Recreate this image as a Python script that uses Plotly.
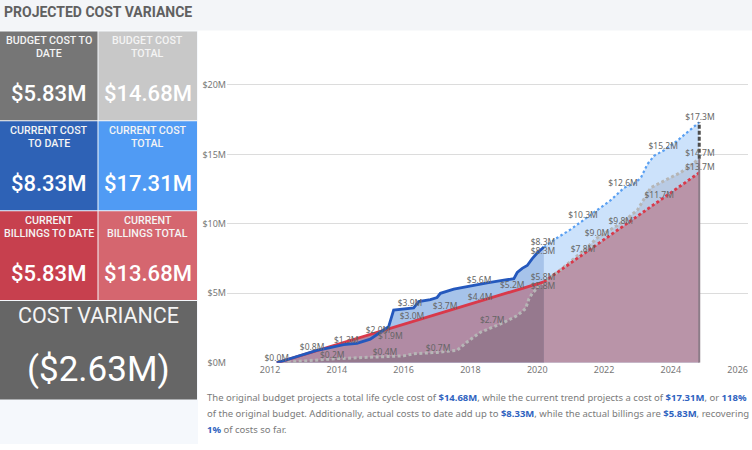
import plotly.graph_objects as go

# ---- data (values in $M, x in fractional years) ----
cur_act_x = [2012.2, 2012.6, 2013.0, 2013.4, 2013.8, 2014.2, 2014.6, 2015.0, 2015.3, 2015.55, 2015.7,
             2016.1, 2016.3, 2016.45, 2016.8, 2017.0, 2017.1, 2017.5, 2018.0, 2018.5, 2019.0, 2019.3,
             2019.4, 2019.55, 2019.7, 2019.85, 2020.0, 2020.2]
cur_act_y = [0.0, 0.3, 0.6, 0.9, 1.1, 1.3, 1.4, 1.7, 2.2, 2.6, 3.8,
             3.9, 3.95, 4.4, 4.55, 4.7, 5.0, 5.3, 5.55, 5.75, 5.95, 6.05,
             6.5, 6.8, 7.0, 7.5, 7.9, 8.33]
cur_proj_x = [2020.2, 2020.6, 2021.0, 2021.4, 2021.8, 2022.2, 2022.6, 2022.9, 2023.1, 2023.3, 2023.5,
              2023.8, 2024.2, 2024.85]
cur_proj_y = [8.33, 9.0, 9.6, 10.3, 11.0, 11.7, 12.6, 12.9, 13.3, 14.3, 14.9, 15.3, 16.0, 17.31]

bud_act_x = [2012.2, 2013.0, 2014.0, 2015.0, 2016.0, 2016.3, 2017.0, 2017.6, 2017.9, 2018.3, 2018.7,
             2019.0, 2019.4, 2019.65, 2019.75, 2019.85, 2020.2]
bud_act_y = [0.0, 0.15, 0.3, 0.4, 0.5, 0.65, 0.75, 0.9, 1.5, 2.2, 2.6, 2.9, 3.4, 3.9, 4.6, 5.0, 5.83]
bud_proj_x = [2020.2, 2020.6, 2021.0, 2021.4, 2021.8, 2022.2, 2022.6, 2023.0, 2023.2, 2023.4, 2023.8,
              2024.3, 2024.85]
bud_proj_y = [5.83, 6.5, 7.3, 8.1, 9.0, 9.6, 10.2, 11.0, 11.8, 12.6, 13.1, 13.7, 14.68]

bill_act_x = [2012.2, 2020.2]
bill_act_y = [0.0, 5.83]
bill_proj_x = [2020.2, 2024.85]
bill_proj_y = [5.83, 13.68]

lbl_x = [2012.2, 2013.26, 2014.28, 2015.23, 2015.6, 2013.86, 2015.44, 2017.03, 2018.65, 2016.19,
         2016.25, 2017.24, 2018.29, 2018.26, 2019.25, 2020.17, 2020.17, 2020.17, 2020.17,
         2021.37, 2021.79, 2022.5, 2021.37, 2023.65, 2022.57, 2023.77, 2024.87, 2024.87, 2024.87]
lbl_y = [0.0, 0.8, 1.3, 2.0, 1.9, 0.2, 0.4, 0.7, 2.7, 3.9,
         3.0, 3.7, 4.4, 5.6, 5.2, 8.3, 8.3, 5.8, 5.8,
         7.8, 9.0, 9.8, 10.3, 11.7, 12.6, 15.2, 14.7, 13.7, 17.3]
lbl_pos = ["top center"] * 4 + ["middle center"] + ["top center"] * 11 + ["bottom center", "top center", "bottom center"] + ["top center"] * 10

y_ticks = [0, 5, 10, 15, 20]
x_ticks = list(range(2012, 2027, 2))

tiles = [
    # label lines, value, colour, (x0, y0, x1, y1) in px
    (["BUDGET COST TO", "DATE"], "$5.83M", "#767676", (0, 32, 97.5, 122)),
    (["BUDGET COST", "TOTAL"], "$14.68M", "#c8c8c8", (98.5, 32, 197, 122)),
    (["CURRENT COST", "TO DATE"], "$8.33M", "#2e62b6", (0, 123, 97.5, 213)),
    (["CURRENT COST", "TOTAL"], "$17.31M", "#509bf4", (98.5, 123, 197, 213)),
    (["CURRENT", "BILLINGS TO DATE"], "$5.83M", "#c7404e", (0, 214, 97.5, 304)),
    (["CURRENT", "BILLINGS TOTAL"], "$13.68M", "#d5666f", (98.5, 214, 197, 304)),
]
variance_value = "($2.63M)"

W, H = 752, 450
def px(x): return x / W
def py(y): return 1 - y / H

TILE_FONT = "Roboto, sans-serif"
TXT_FONT = "Noto Sans, Open Sans, sans-serif"

fig = go.Figure()

def area(x, y, color):
    fig.add_trace(go.Scatter(x=x, y=y, mode="lines", fill="tozeroy", fillcolor=color,
                             line=dict(width=0), hoverinfo="skip", showlegend=False))

area(cur_act_x, cur_act_y, "rgb(166,195,234)")
area(cur_proj_x, cur_proj_y, "rgb(204,226,251)")
area(bud_proj_x, bud_proj_y, "rgba(110,115,140,0.2)")
area(bill_act_x, bill_act_y, "rgb(177,139,164)")
area(bill_proj_x, bill_proj_y, "rgb(185,148,168)")
area(bud_act_x, bud_act_y, "rgba(46,48,53,0.2)")

def line(x, y, color, width, dash="solid"):
    fig.add_trace(go.Scatter(x=x, y=y, mode="lines", line=dict(color=color, width=width, dash=dash),
                             hoverinfo="skip", showlegend=False))

line(bud_act_x + bud_proj_x[1:], bud_act_y + bud_proj_y[1:], "#b6b6b6", 3, "3px,2.5px")
line(bill_act_x, bill_act_y, "#d9394a", 2.8)
line(bill_proj_x, bill_proj_y, "#d9394a", 2.8, "3px,2.5px")
line(cur_act_x, cur_act_y, "#2458bd", 2.8)
line(cur_proj_x, cur_proj_y, "#5aa0f2", 2.2, "2.5px,2.5px")
line([bill_proj_x[-1]] * 2, [0, bud_proj_y[-1]], "#8c7c88", 2)
line([cur_proj_x[-1]] * 2, [bud_proj_y[-1], cur_proj_y[-1]], "#4d4d4d", 3, "4px,2px")

fig.add_trace(go.Scatter(x=lbl_x, y=lbl_y, mode="text", text=[f"${v:.1f}M" for v in lbl_y],
                         textposition=lbl_pos, textfont=dict(family=TXT_FONT, size=8.5, color="#666666"),
                         hoverinfo="skip", showlegend=False))

shapes = [
    dict(type="rect", xref="paper", yref="paper", x0=0, x1=1, y0=py(31), y1=1,
         fillcolor="#f3f5f8", line_width=0, layer="below"),
    dict(type="rect", xref="paper", yref="paper", x0=0, x1=px(198), y0=0, y1=py(31),
         fillcolor="#f5f8fc", line_width=0, layer="below"),
]
annotations = [
    dict(text="<b>PROJECTED COST VARIANCE</b>", x=px(2), y=py(12), xref="paper", yref="paper",
         xanchor="left", yanchor="middle", showarrow=False,
         font=dict(family=TILE_FONT, size=14, color="#606060")),
]
for lines, value, color, (x0, y0, x1, y1) in tiles:
    shapes.append(dict(type="rect", xref="paper", yref="paper", x0=px(x0), x1=px(x1),
                       y0=py(y1), y1=py(y0), fillcolor=color, line_width=0))
    cx = (x0 + x1) / 2
    for i, t in enumerate(lines):
        annotations.append(dict(text=t, x=px(cx), y=py(y0 + 9 + 13.3 * i), xref="paper", yref="paper",
                                xanchor="center", yanchor="middle", showarrow=False,
                                font=dict(family=TILE_FONT, size=10.7, weight=500, color="#f4f4f4")))
    annotations.append(dict(text=value, x=px(cx), y=py(y0 + 63), xref="paper", yref="paper",
                            xanchor="center", yanchor="middle", showarrow=False,
                            font=dict(family=TILE_FONT, size=22, weight=500, color="#ffffff")))

shapes.append(dict(type="rect", xref="paper", yref="paper", x0=0, x1=px(197), y0=py(405), y1=py(305),
                   fillcolor="#666666", line_width=0))
annotations.append(dict(text="COST VARIANCE", x=px(98.5), y=py(320), xref="paper", yref="paper",
                        xanchor="center", yanchor="middle", showarrow=False,
                        font=dict(family=TILE_FONT, size=21.5, color="#f4f4f4")))
annotations.append(dict(text=variance_value, x=px(98.5), y=py(374), xref="paper", yref="paper",
                        xanchor="center", yanchor="middle", showarrow=False,
                        font=dict(family=TILE_FONT, size=35, color="#ffffff")))

def hl(v):
    return f"<span style='color:#2f63c0'><b>{v}</b></span>"

para = [
    f"The original budget projects a total life cycle cost of {hl('$14.68M')}, while the current trend projects a cost of {hl('$17.31M')}, or {hl('118%')}",
    f"of the original budget. Additionally, actual costs to date add up to {hl('$8.33M')}, while the actual billings are {hl('$5.83M')}, recovering",
    f"{hl('1%')} of costs so far.",
]
for i, t in enumerate(para):
    annotations.append(dict(text=t, x=px(205), y=py(403 + 16 * i), xref="paper", yref="paper",
                            xanchor="left", yanchor="middle", showarrow=False,
                            font=dict(family=TXT_FONT, size=9.5, color="#7a7a7a")))

fig.update_layout(
    width=W, height=H, margin=dict(l=0, r=0, t=0, b=0),
    paper_bgcolor="white", plot_bgcolor="rgba(0,0,0,0)",
    shapes=shapes, annotations=annotations,
    xaxis=dict(domain=[px(227), px(748)], range=[2010.71, 2026.31], tickvals=x_ticks,
               showgrid=False, zeroline=False, showline=False, ticks="",
               tickfont=dict(family=TXT_FONT, size=9, color="#777777")),
    yaxis=dict(domain=[py(367.7), py(60)], range=[0, 21.85], tickvals=y_ticks,
               ticktext=[f"${v}M" for v in y_ticks], showgrid=True, gridcolor="#dcdcdc", gridwidth=1,
               zeroline=False, showline=False, ticks="",
               tickfont=dict(family=TXT_FONT, size=9, color="#777777")),
)

fig.write_html("out.html", config={"displayModeBar": False},
               post_script="document.body.style.margin='0';")
